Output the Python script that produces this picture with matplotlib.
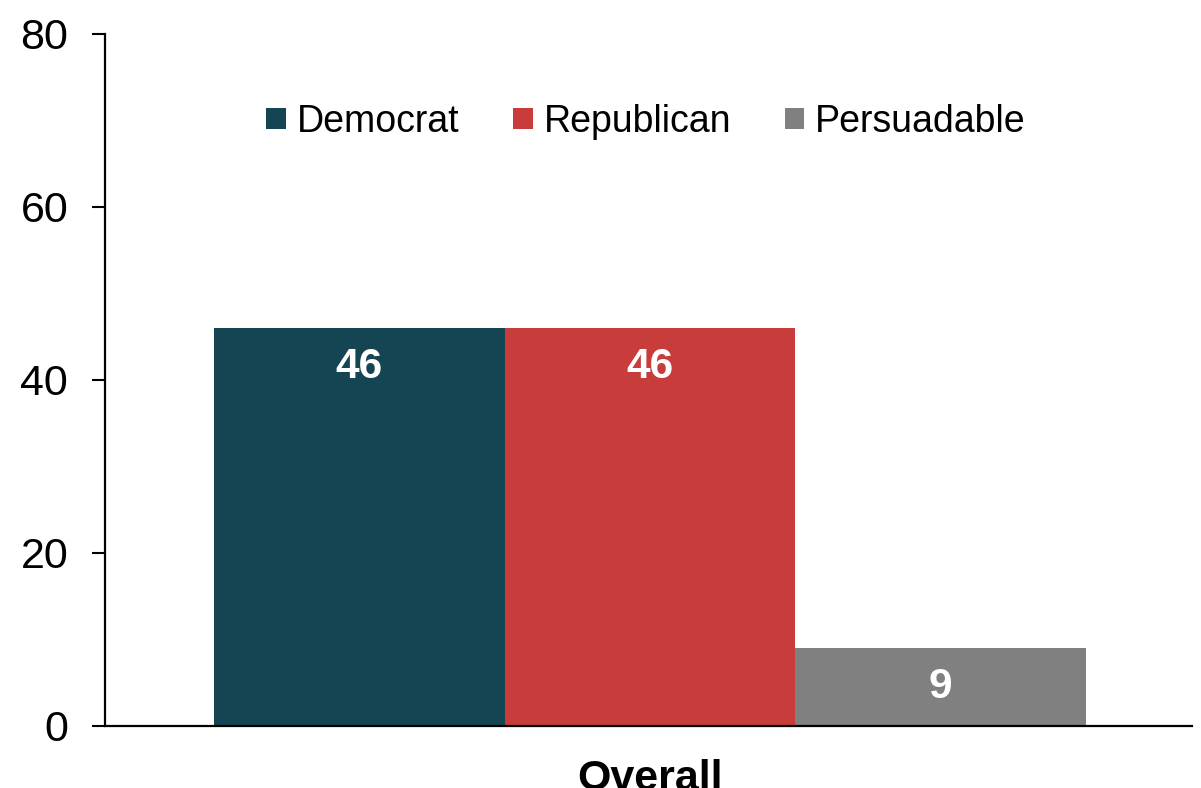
import matplotlib
matplotlib.use("Agg")
import matplotlib.pyplot as plt

plt.rcParams["font.family"] = ["Liberation Sans", "DejaVu Sans"]

# data
category = "Overall"
groups = ["Democrat", "Republican", "Persuadable"]
values = [46, 46, 9]
colors = ["#154452", "#C83C3B", "#808080"]
y_ticks = [0, 20, 40, 60, 80]

fig = plt.figure(figsize=(12.01, 7.88), dpi=100)
ax = fig.add_axes([0.0874, 0.0787, 0.905, 0.8782])

# one category, three bars side by side
offsets = [-1, 0, 1]
for off, name, val, col in zip(offsets, groups, values, colors):
    bars = ax.bar(off, val, width=1.0, color=col, label=name)
    for rect in bars:
        ax.annotate(f"{val}",
                    (rect.get_x() + rect.get_width() / 2, rect.get_height()),
                    xytext=(0, -28), textcoords="offset points",
                    ha="center", va="center", color="white",
                    fontsize=30.5, fontweight="bold")

ax.set_xlim(-1.875, 1.865)
ax.set_ylim(0, 80)
ax.set_yticks(y_ticks)
ax.set_xticks([0])
ax.set_xticklabels([category], fontsize=31, fontweight="bold")

ax.tick_params(axis="y", labelsize=31, length=9.5, width=1.5, pad=17)
ax.tick_params(axis="x", length=0, pad=24)

for side in ["top", "right"]:
    ax.spines[side].set_visible(False)
for side in ["left", "bottom"]:
    ax.spines[side].set_linewidth(1.6)

ax.legend(loc="center", bbox_to_anchor=(0.498, 0.873), ncol=3, frameon=False,
          fontsize=27, handlelength=0.52, handleheight=0.52,
          handletextpad=0.3, columnspacing=1.42)

fig.savefig("out.png", dpi=100)
